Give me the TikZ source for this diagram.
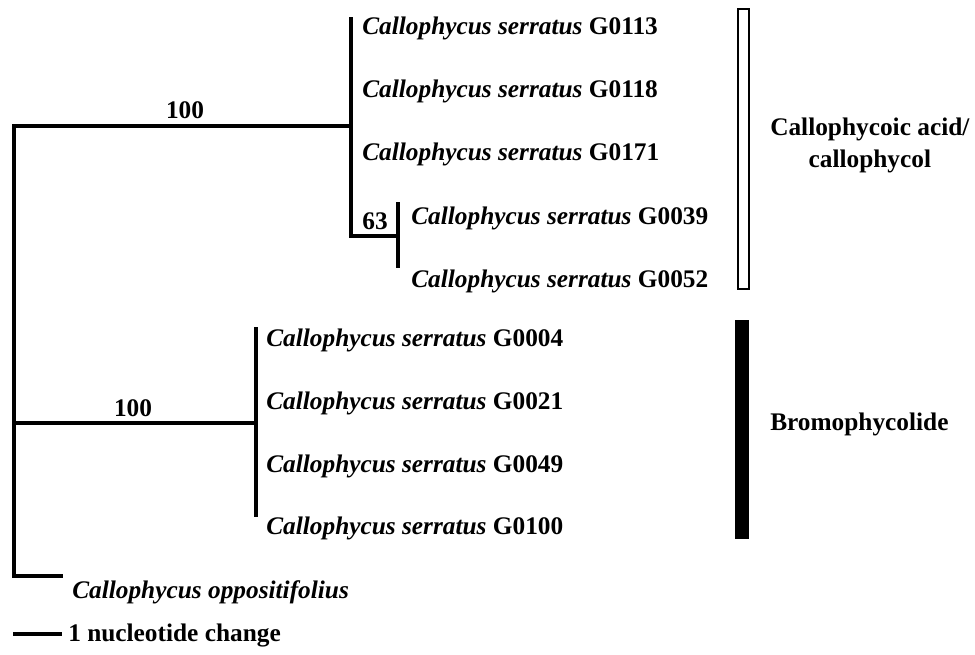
\documentclass[tikz,border=0pt]{standalone}
\usepackage{fontspec}
\setmainfont{Liberation Serif}
\newcommand{\cser}[1]{\textit{Callophycus serratus} #1}
\begin{document}
\begin{tikzpicture}[x=0.75pt,y=-0.75pt,
  treeline/.style={line width=2.3pt},
  taxon/.style={anchor=west,inner sep=0pt,font=\fontsize{19}{22}\selectfont\bfseries},
  boot/.style={inner sep=0pt,font=\fontsize{19}{22}\selectfont\bfseries},
  group/.style={anchor=west,inner sep=0pt,align=center,font=\fontsize{19}{24}\selectfont\bfseries}]

        \useasboundingbox (0,0) rectangle (975,654);

        % tree joints
        \coordinate (root) at (14,126);
        \coordinate (rootb) at (14,576);
        \coordinate (mid) at (14,423);
        \coordinate (cA) at (351,126);
        \coordinate (cAtop) at (351,17);
        \coordinate (cAbot) at (351,236);
        \coordinate (cS) at (398,236);
        \coordinate (cStop) at (398,202);
        \coordinate (cSbot) at (398,268);
        \coordinate (cB) at (256,423);
        \coordinate (cBtop) at (256,327);
        \coordinate (cBbot) at (256,517);
        \coordinate (out) at (63,576);

        \draw[treeline] (cA) -- (root) -- (rootb) -- (out);
        \draw[treeline] (mid) -- (cB);
        \draw[treeline] (cAtop) -- (cAbot) -- (cS);
        \draw[treeline] (cStop) -- (cSbot);
        \draw[treeline] (cBtop) -- (cBbot);

        % bootstrap values
        \node[boot] (bA) at (185,110) {100};
        \node[boot] (bS) at (375,221) {63};
        \node[boot] (bB) at (133,408) {100};

        % taxa
        \node[taxon] (g0113) at (362,28) {\cser{G0113}};
        \node[taxon] (g0118) at (362,91) {\cser{G0118}};
        \node[taxon] (g0171) at (362,154) {\cser{G0171}};
        \node[taxon] (g0039) at (411,218) {\cser{G0039}};
        \node[taxon] (g0052) at (411,281) {\cser{G0052}};
        \node[taxon] (g0004) at (266,340) {\cser{G0004}};
        \node[taxon] (g0021) at (266,403) {\cser{G0021}};
        \node[taxon] (g0049) at (266,466) {\cser{G0049}};
        \node[taxon] (g0100) at (266,528) {\cser{G0100}};
        \node[taxon] (opp) at (72,592) {\textit{Callophycus oppositifolius}};

        % scale bar
        \coordinate (sL) at (13,634);
        \coordinate (sR) at (62,634);
        \draw[treeline] (sL) -- (sR);
        \node[taxon] (scale) at (68,635) {1 nucleotide change};

        % chemotype bars
        \draw[line width=1.2pt] (738,9) rectangle (749,289);
        \fill (735,320) rectangle (749,539);
        \node[group] (chemA) at (770,145) {Callophycoic acid/\\callophycol};
        \node[group] (chemB) at (770,424) {Bromophycolide};
      \end{tikzpicture}
\end{document}
